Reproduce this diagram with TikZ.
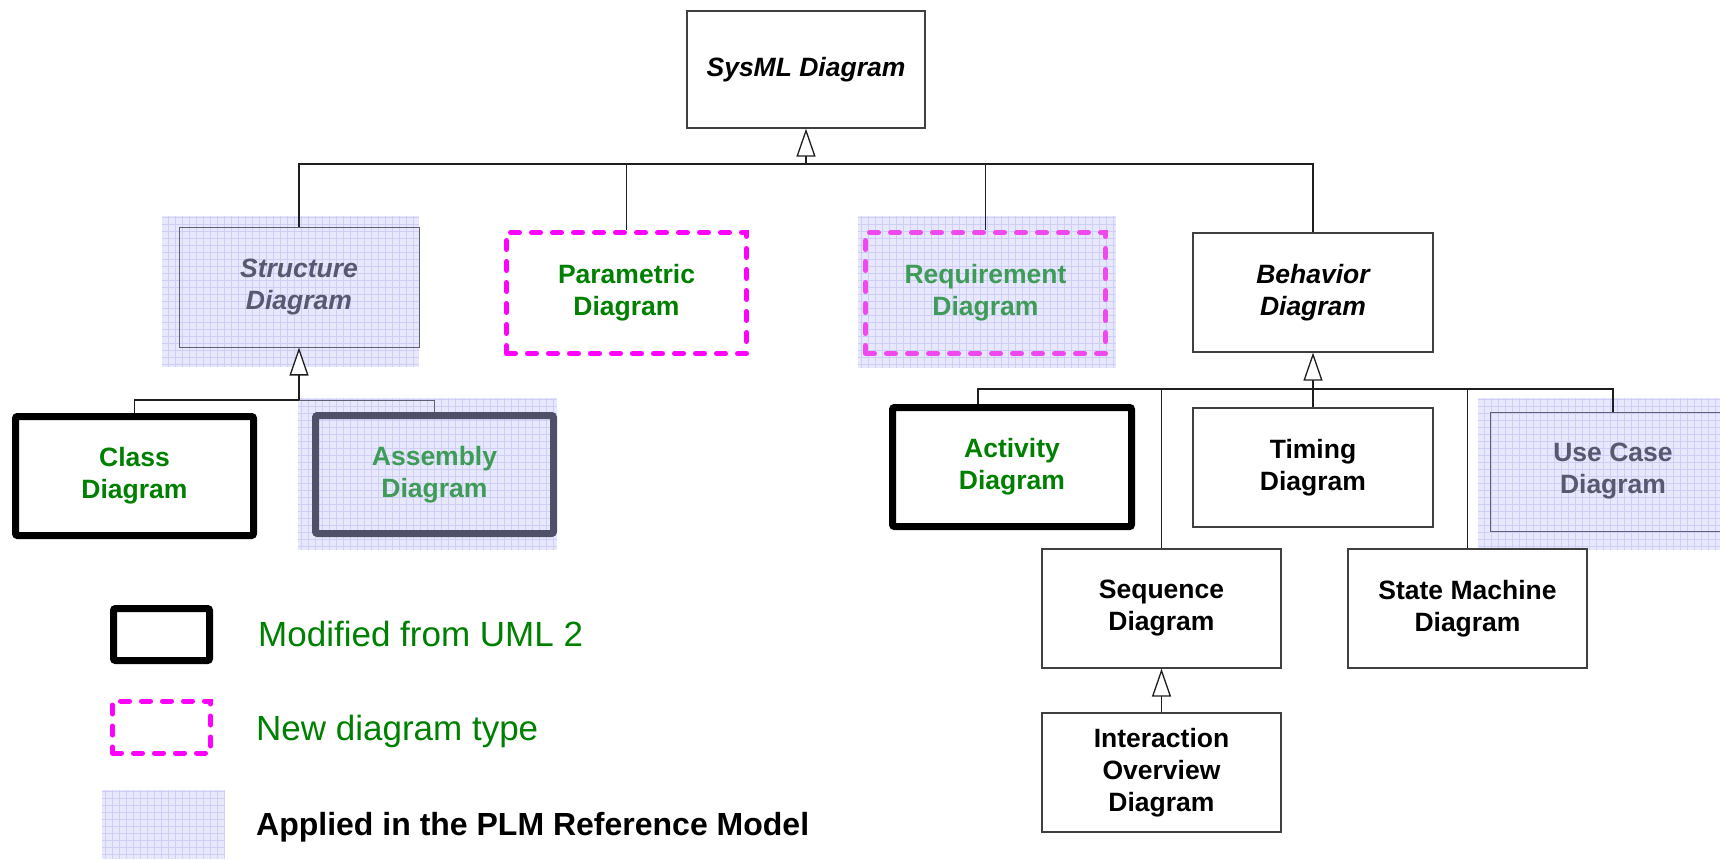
\documentclass[tikz,border=0pt]{standalone}
\usepackage{fontspec}
\setmainfont{Liberation Sans}
\usetikzlibrary{arrows.meta,calc}

\definecolor{umlgreen}{RGB}{0,128,0}
\definecolor{palegreen}{RGB}{62,155,88}
\definecolor{slate}{RGB}{88,88,112}
\definecolor{slateline}{RGB}{96,96,116}
\definecolor{assemline}{RGB}{80,80,104}
\definecolor{hatchbg}{RGB}{232,232,252}
\definecolor{hatchline}{RGB}{206,206,246}
\definecolor{newpink}{RGB}{255,0,255}
\definecolor{palepink}{RGB}{238,72,238}
\definecolor{wire}{RGB}{30,30,30}

\newcommand{\nodefont}{\fontsize{26.5}{32}\selectfont\bfseries}
\newcommand{\hatcharea}[4]{%
  \fill[hatchbg] (#1,#2) rectangle (#3,#4);
  \draw[hatchline, line width=0.7pt, step=7pt] (#1,#2) grid (#3,#4);}

\pgfdeclarelayer{hatching}
\pgfsetlayers{hatching,main}

\begin{document}
\begin{tikzpicture}[x=1pt,y=-1pt,
  base/.style={inner sep=0pt, align=center, font=\nodefont, anchor=center},
  plainbox/.style={base, draw=wire!85, line width=1.3pt, fill=white},
  umlbox/.style={base, draw=black, line width=7pt, rounded corners=2pt, fill=white, text=umlgreen},
  newbox/.style={base, draw=newpink, line width=5pt, line cap=round,
                 dash pattern=on 9pt off 12pt, fill=white, text=umlgreen},
  plmbox/.style={base, draw=slateline, line width=1pt, text=slate},
  wirel/.style={draw=wire, line width=1.3pt},
  gen/.style={wirel, -{Triangle[length=28pt, width=19pt, fill=white, line width=1.3pt]}},
  legtext/.style={anchor=base west, inner sep=0pt, text=umlgreen, font=\fontsize{35}{42}\selectfont},
]
\clip (0,0) rectangle (1720,859);

% background areas of the PLM reference model
\begin{pgfonlayer}{hatching}
  \fill[white] (0,0) rectangle (1720,859);
  \hatcharea{162}{216}{419}{367}
  \hatcharea{298}{398}{557}{550}
  \hatcharea{858}{216}{1116}{368}
  \hatcharea{1478}{398}{1730}{550}
  \hatcharea{102}{790}{225}{859}
\end{pgfonlayer}

% top level
\node[plainbox, minimum width=238pt, minimum height=117pt, font=\nodefont\itshape]
  (sysml) at (806,69.5) {SysML Diagram};

% second level
\node[plmbox, minimum width=240pt, minimum height=120pt, font=\nodefont\itshape]
  (struct) at (299,287) {Structure\\Diagram};
\node[newbox, minimum width=240pt, minimum height=121pt]
  (param) at (626.5,293) {Parametric\\Diagram};
\node[newbox, draw=palepink, fill=none, text=palegreen, minimum width=240pt, minimum height=121pt]
  (req) at (985.5,293) {Requirement\\Diagram};
\node[plainbox, minimum width=240pt, minimum height=119pt, font=\nodefont\itshape]
  (behav) at (1313,292.5) {Behavior\\Diagram};

% structure diagrams
\node[umlbox, minimum width=238pt, minimum height=119pt]
  (class) at (134.5,476) {Class\\Diagram};
\node[umlbox, draw=assemline, fill=none, text=palegreen, minimum width=238pt, minimum height=118pt]
  (assem) at (434.5,474.5) {Assembly\\Diagram};

% behavior diagrams
\node[umlbox, minimum width=239pt, minimum height=119pt]
  (activity) at (1012,467) {Activity\\Diagram};
\node[plainbox, minimum width=240pt, minimum height=119pt]
  (timing) at (1313,467.5) {Timing\\Diagram};
\node[plmbox, minimum width=246pt, minimum height=119pt]
  (usecase) at (1613,471.5) {Use Case\\Diagram};
\node[plainbox, minimum width=239pt, minimum height=119pt]
  (seq) at (1161.5,608.5) {Sequence\\Diagram};
\node[plainbox, minimum width=239pt, minimum height=119pt]
  (statem) at (1467.5,608.5) {State Machine\\Diagram};
\node[plainbox, minimum width=239pt, minimum height=119pt]
  (interact) at (1161.5,772.5) {Interaction\\Overview\\Diagram};

% generalization connectors
\coordinate (topbar) at (sysml.south |- 0,164);
\draw[gen] (topbar) -- (sysml.south);
\draw[wirel] (struct.north) |- (topbar) -| (behav.north);
\draw[wirel] (param.north) -- (param.north |- topbar);
\draw[wirel] (req.north) -- (req.north |- topbar);

\coordinate (structbar) at (struct.south |- 0,400);
\draw[gen] (structbar) -- (struct.south);
\draw[wirel] (class.north) |- (structbar);
\draw[wirel, draw=slateline, line width=1pt] (structbar) -| (assem.north);

\coordinate (behavbar) at (behav.south |- 0,389);
\coordinate (actin) at ([xshift=-34pt]activity.north);
\draw[gen] (behavbar) -- (behav.south);
\draw[wirel] (actin) |- (behavbar) -| (usecase.north);
\draw[wirel] (timing.north) -- (behavbar);
\draw[wirel] (seq.north) -- (seq.north |- behavbar);
\draw[wirel] (statem.north) -- (statem.north |- behavbar);
\draw[gen] (interact.north) -- (seq.south);

% legend
\node[umlbox, minimum width=96pt, minimum height=52pt] (legmod) at (161.5,634.5) {};
\node[newbox, minimum width=98pt, minimum height=52pt] (legnew) at (161.5,727) {};
\node[inner sep=0pt, minimum width=123pt, minimum height=69pt] (legplm) at (163.5,824.5) {};
\node[legtext] (legmodtxt) at (258,646) {Modified from UML 2};
\node[legtext] (legnewtxt) at (256,740) {New diagram type};
\node[legtext, text=black, font=\fontsize{32}{38}\selectfont\bfseries]
  (legplmtxt) at (256,835) {Applied in the PLM Reference Model};
\end{tikzpicture}
\end{document}
